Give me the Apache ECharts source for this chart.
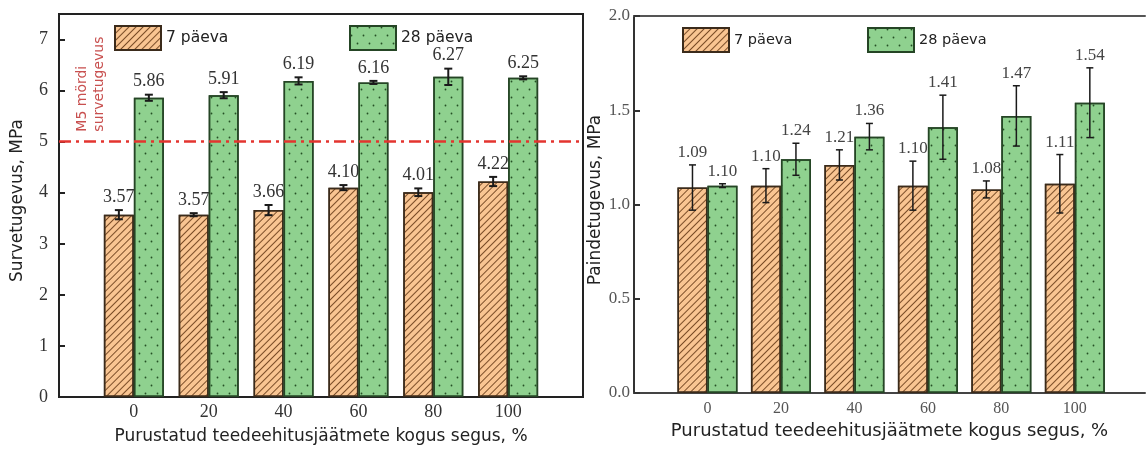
<!DOCTYPE html>
<html><head><meta charset="utf-8">
<script src="https://cdn.jsdelivr.net/npm/echarts@6/dist/echarts.min.js"></script>
<style>html,body{margin:0;padding:0;background:#fff}#c{width:1148px;height:450px}</style>
</head><body><div id="c"></div>
<script>
const categories = [0, 20, 40, 60, 80, 100];
const seriesNames = ['7 päeva', '28 päeva'];
const compress7 = [3.57, 3.57, 3.66, 4.10, 4.01, 4.22];
const compress7Err = [0.09, 0.03, 0.10, 0.05, 0.075, 0.09];
const compress28 = [5.86, 5.91, 6.19, 6.16, 6.27, 6.25];
const compress28Err = [0.06, 0.06, 0.07, 0.03, 0.16, 0.03];
const flex7 = [1.09, 1.10, 1.21, 1.10, 1.08, 1.11];
const flex7Err = [0.12, 0.09, 0.08, 0.13, 0.045, 0.155];
const flex28 = [1.10, 1.24, 1.36, 1.41, 1.47, 1.54];
const flex28Err = [0.01, 0.085, 0.07, 0.17, 0.16, 0.185];
const m5Limit = 5;
const m5Text = 'M5 mördi\nsurvetugevus';
const xTitle = 'Purustatud teedeehitusjäätmete kogus segus, %';
const yTitleLeft = 'Survetugevus, MPa';
const yTitleRight = 'Paindetugevus, MPa';

const SERIF = 'Liberation Serif';
const SANS = 'DejaVu Sans';
const BAR_W = 30;
const hatch = {symbol:'rect', symbolSize:1, dashArrayX:[1,0], dashArrayY:[1,4], rotation:-Math.PI/4, color:'rgba(100,55,20,0.85)'};
const dots = {symbol:'circle', symbolSize:0.6, dashArrayX:[[3,9],[0,6,3,3]], dashArrayY:[3,5], color:'#244f24'};
const orangeStyle = {color:'#f9c592', borderColor:'#3b2b1b', borderWidth:1.5, decal:hatch};
const greenStyle = {color:'#8fd18f', borderColor:'#254525', borderWidth:1.5, decal:dots};

function barSeries(name, vals, idx, style, extra) {
  return Object.assign({
    type:'bar', name:name, xAxisIndex:idx, yAxisIndex:idx, barWidth:BAR_W, barGap:'0%',
    itemStyle:style, data:categories.map((c,i)=>[c, vals[i]])
  }, extra || {});
}
function errSeries(vals, errs, idx, side, o) {
  return {
    type:'custom', xAxisIndex:idx, yAxisIndex:idx, z:10, silent:true,
    data:categories.map((c,i)=>[c, vals[i], errs[i]]),
    renderItem(params, api) {
      const x = api.value(0), v = api.value(1), e = api.value(2);
      const t = api.coord([x, v + e]), b = api.coord([x, v - e]);
      const cx = t[0] + side * BAR_W / 2;
      const st = {stroke:'#1a1a1a', lineWidth:o.lw};
      return {type:'group', children:[
        {type:'line', shape:{x1:cx, y1:t[1], x2:cx, y2:b[1]}, style:st},
        {type:'line', shape:{x1:cx-o.cap, y1:t[1], x2:cx+o.cap, y2:t[1]}, style:st},
        {type:'line', shape:{x1:cx-o.cap, y1:b[1], x2:cx+o.cap, y2:b[1]}, style:st},
        {type:'text', style:{text:v.toFixed(2), x:cx, y:t[1]-4, align:'center', verticalAlign:'bottom',
          font:o.fs+'px "'+SERIF+'"', fill:o.col}}
      ]};
    }
  };
}
function legendItem(name, left, top, fs) {
  return {data:[name], left:left, top:top, itemWidth:46, itemHeight:24, icon:'rect', selectedMode:false,
    textStyle:{fontFamily:SANS, fontSize:fs, color:'#222'}};
}

const chart = echarts.init(document.getElementById('c'));
chart.setOption({
  animation:false,
  backgroundColor:'#fff',
  grid:[
    {left:59, top:14, width:524, height:383, show:true, borderColor:'#222', borderWidth:2, backgroundColor:'transparent'},
    {left:634, top:16, right:0, height:377, show:false}
  ],
  legend:[
    legendItem(seriesNames[0], 109, 20, 15.5),
    legendItem(seriesNames[1], 344, 20, 15.5),
    legendItem(seriesNames[0], 677, 22, 14.5),
    legendItem(seriesNames[1], 862, 22, 14.5)
  ],
  xAxis:[
    {type:'value', gridIndex:0, min:-20, max:120, interval:20, splitLine:{show:false}, axisTick:{show:false},
     axisLine:{onZero:false, lineStyle:{color:'#222', width:2}},
     axisLabel:{formatter:v=>(v>=0&&v<=100)?String(v):'', fontFamily:SERIF, fontSize:18, color:'#333', margin:6},
     name:xTitle, nameLocation:'middle', nameGap:31, nameTextStyle:{fontFamily:SANS, fontSize:17, color:'#222'}},
    {type:'value', gridIndex:1, min:-20, max:119.1, interval:20, splitLine:{show:false}, axisTick:{show:false},
     axisLine:{onZero:false, lineStyle:{color:'#444', width:2}},
     axisLabel:{formatter:v=>(v>=0&&v<=100)?String(v):'', fontFamily:SERIF, fontSize:16, color:'#555', margin:8},
     name:xTitle, nameLocation:'middle', nameGap:29, nameTextStyle:{fontFamily:SANS, fontSize:18, color:'#222'}},
    {type:'value', gridIndex:1, position:'top', min:-20, max:119.1, splitLine:{show:false}, axisTick:{show:false},
     axisLabel:{show:false}, axisLine:{onZero:false, lineStyle:{color:'#555', width:2}}}
  ],
  yAxis:[
    {type:'value', gridIndex:0, min:0, max:7.5, interval:1, splitLine:{show:false},
     axisLine:{show:true, onZero:false, lineStyle:{color:'#222', width:2}},
     axisTick:{show:true, inside:true, length:6, lineStyle:{color:'#222', width:2}},
     axisLabel:{formatter:v=>Number.isInteger(v)?String(v):'', fontFamily:SERIF, fontSize:18, color:'#333', margin:11},
     name:yTitleLeft, nameLocation:'middle', nameGap:33, nameTextStyle:{fontFamily:SANS, fontSize:17, color:'#222', padding:[0,0,0,10]}},
    {type:'value', gridIndex:1, min:0, max:2, interval:0.5, splitLine:{show:false},
     axisLine:{show:true, onZero:false, lineStyle:{color:'#333', width:2}},
     axisTick:{show:true, inside:true, length:6, lineStyle:{color:'#333', width:2}},
     axisLabel:{formatter:v=>v.toFixed(1), fontFamily:SERIF, fontSize:17, color:'#555', margin:4},
     name:yTitleRight, nameLocation:'middle', nameGap:30, nameTextStyle:{fontFamily:SANS, fontSize:17, color:'#222', padding:[0,0,0,9]}}
  ],
  series:[
    barSeries(seriesNames[0], compress7, 0, orangeStyle),
    barSeries(seriesNames[1], compress28, 0, greenStyle, {
      markLine:{silent:true, symbol:['none','none'], label:{show:false}, z:20,
        lineStyle:{color:'#e3342f', width:2.5, type:[12,5,3,5]}, data:[{yAxis:m5Limit}]}
    }),
    errSeries(compress7, compress7Err, 0, -1, {lw:2, cap:4, fs:18, col:'#333'}),
    errSeries(compress28, compress28Err, 0, 1, {lw:2, cap:4, fs:18, col:'#333'}),
    barSeries(seriesNames[0], flex7, 1, orangeStyle),
    barSeries(seriesNames[1], flex28, 1, greenStyle),
    errSeries(flex7, flex7Err, 1, -1, {lw:1.5, cap:3.5, fs:17, col:'#444'}),
    errSeries(flex28, flex28Err, 1, 1, {lw:1.5, cap:3.5, fs:17, col:'#444'})
  ]
});
const p = chart.convertToPixel({xAxisIndex:0, yAxisIndex:0}, [-11.6, m5Limit]);
chart.setOption({graphic:[{type:'text', x:p[0], y:p[1]-10, rotation:Math.PI/2, z:100,
  style:{text:m5Text, font:'14px "'+SANS+'"', fill:'#c8504f', align:'left', verticalAlign:'middle', lineHeight:17}}]});
</script></body></html>
